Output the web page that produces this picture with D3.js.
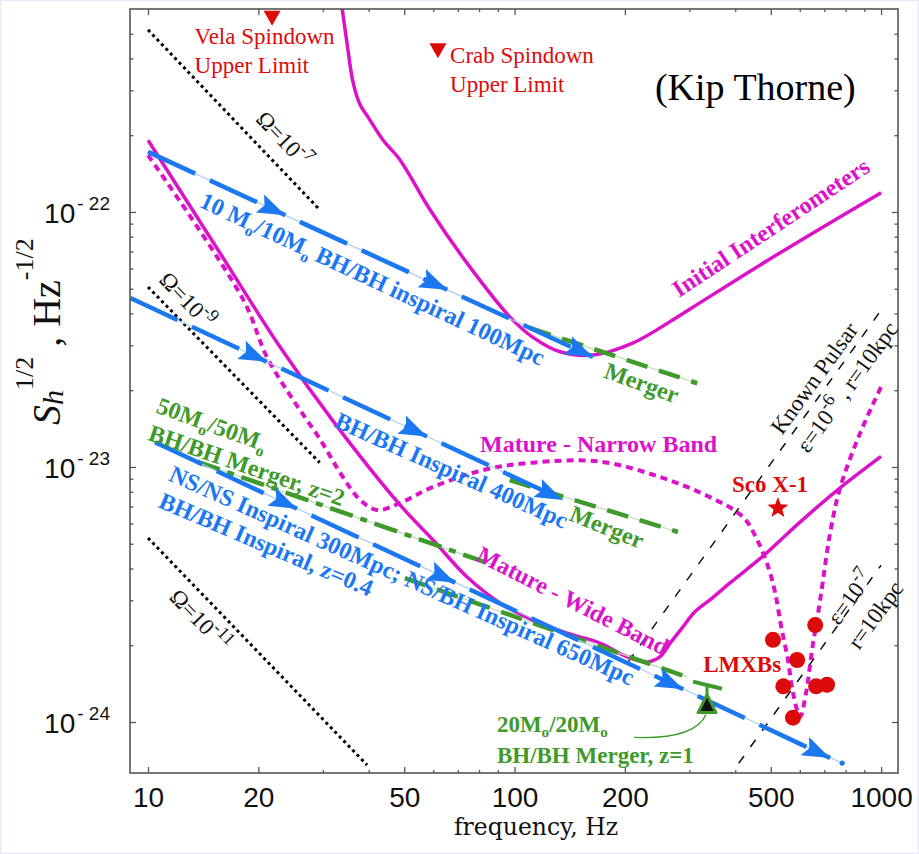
<!DOCTYPE html>
<html>
<head>
<meta charset="utf-8">
<script src="https://cdn.jsdelivr.net/npm/d3@7"></script>
<style>
  body { margin: 0; background: #fff; }
  svg { display: block; }
  text { white-space: pre; }
</style>
</head>
<body>
<svg id="chart" width="919" height="854"></svg>
<script>
// ---- Data: frequency (Hz) vs strain noise S_h^(1/2) (Hz^-1/2) ----
const initialIfo = [[33.6,6.8e-22],[34.9,4.6e-22],[36.3,3.2e-22],[37.9,2.63e-22],[39.8,2.36e-22],
  [43.8,1.91e-22],[48.7,1.6e-22],[58.8,1.02e-22],[74.2,6.3e-23],[97.2,3.87e-23],[112,3.23e-23],
  [133,2.83e-23],[164,2.75e-23],[210,3.06e-23],[270,3.77e-23],[320,4.4e-23],[468,6.2e-23],
  [682,8.6e-23],[1000,1.19e-22]];
const matureWide = [[10,1.91e-22],[15.1,7.56e-23],[22.9,2.96e-23],[31.8,1.53e-23],[48.7,7.1e-24],
  [59.9,5.18e-24],[74.1,3.71e-24],[91.2,2.93e-24],[112,2.51e-24],[139,2.23e-24],[171,2.04e-24],
  [203,1.8e-24],[230,1.72e-24],[249,1.8e-24],[266,2.04e-24],[288,2.36e-24],[310,2.7e-24],
  [346,3.06e-24],[387,3.51e-24],[477,4.48e-24],[601,6.08e-24],[773,8.28e-24],[1000,1.1e-23]];
const matureNarrow = [[10,1.67e-22],[18.2,4.52e-23],[21.1,2.7e-23],[24.9,1.83e-23],[29.5,1.28e-23],
  [34,9.14e-24],[37.9,7.43e-24],[42.2,6.78e-24],[48.7,7.22e-24],[59.9,8.35e-24],[82.1,9.73e-24],
  [112,1.04e-23],[171,1.05e-23],[249,9.14e-24],[341,7.62e-24],[420,6.37e-24],[459,5.18e-24],
  [492,4.06e-24],[514,3.21e-24],[534,2.36e-24],[557,1.75e-24],[575,1.3e-24],[601,1.05e-24],
  [624,1.3e-24],[648,1.91e-24],[682,3.01e-24],[726,5.51e-24],[773,8.28e-24],[877,1.36e-23],
  [1000,2.06e-23]];

// Stochastic background Omega lines
const omega7 = [[10,5.18e-22],[29.4,1.02e-22]];
const omega9 = [[10,5.08e-23],[29.4,1.04e-23]];
const omega11 = [[10,5.27e-24],[39.6,6.78e-25]];

// Known pulsar lines (epsilon = 1e-6 and 1e-7 at 10 kpc)
const pulsarEps6 = [[190,1.49e-24],[1000,4.12e-23]];
const pulsarEps7 = [[380,5.95e-25],[1000,4.12e-24]];

// Inspiral tracks: start, end, arrow frequencies
const inspiral100 = { from:[10,1.72e-22], to:[163.7,2.7e-23], arrows:[23.7,65.5,163.7] };
const inspiral400 = { from:[8.95,4.6e-23], to:[135.5,7.43e-24], arrows:[21.1,57.7,135.5] };
const inspiralNS  = { from:[10.45,1.25e-23], to:[726,7.23e-25], arrows:[25.5,68.9,288.5,726], tail:[783,6.9e-25] };

// Merger tracks
const merger100 = [[110,3.51e-23],[315,2.13e-23]];
const merger400 = [[97,8.89e-24],[279,5.56e-24]];
const mergerZ2  = [[13.6,1.05e-23],[87.3,4.13e-24]];
const mergerNS  = [[50.2,3.67e-24],[296,1.5e-24]];
const mergerZ1bar = [[307,1.44e-24],[368,1.35e-24]];
const mergerZ1 = [335,1.17e-24];

// Spindown upper limits, Sco X-1, LMXBs
const vela = [21.8,5.77e-22];
const crab = [61.8,4.31e-22];
const scoX1 = [523,6.9e-24];
const lmxbs = [[507,2.1e-24],[590,1.75e-24],[541,1.38e-24],[661,2.4e-24],[665,1.38e-24],[712,1.4e-24],[575,1.04e-24]];

// Axis ticks
const xMajor = [10,20,50,100,200,500,1000];
const xMinor = [30,40,60,70,80,90,300,400,600,700,800,900];
const yMajor = [1e-24,1e-23,1e-22];
const yMajorLabels = ["24","23","22"];
const yMinor = [];
yMajor.forEach(d => { for (let k = 2; k <= 9; k++) { if (k*d <= 5.01e-22) yMinor.push(k*d); } });

// ---- Styles ----
const BLUE = "#1b78f0", BLUE_THIN = "#a9cdf6";
const GREEN = "#3f9a2c", GREEN_THIN = "#bcdcb0";
const MAGENTA = "#dc12c9";
const RED = "#dd0a0a";
const SERIF = "'Liberation Serif', 'Times New Roman', serif";
const SANS = "'Liberation Sans', Arial, sans-serif";

const svg = d3.select("#chart");
const plot = { left:130, top:9, right:898, bottom:773 };
const x = d3.scaleLog().domain([8.93,1112]).range([plot.left, plot.right]);
const y = d3.scaleLog().domain([6.31e-25,6.25e-22]).range([plot.bottom, plot.top]);
const P = d => [x(d[0]), y(d[1])];

svg.append("rect").attr("width",919).attr("height",854).attr("fill","#fff");
svg.append("rect").attr("x",0.5).attr("y",0.5).attr("width",918).attr("height",853)
  .attr("fill","none").attr("stroke","#e9e6f6").attr("stroke-width",1.5);

svg.append("defs").append("clipPath").attr("id","plotClip").append("rect")
  .attr("x",plot.left).attr("y",plot.top)
  .attr("width",plot.right-plot.left).attr("height",plot.bottom-plot.top);

const g = svg.append("g").attr("clip-path","url(#plotClip)");
const straight = d3.line().x(d => x(d[0])).y(d => y(d[1]));
const smooth = d3.line().x(d => x(d[0])).y(d => y(d[1])).curve(d3.curveCatmullRom.alpha(0.5));

// ---- Omega background lines ----
[omega7, omega9, omega11].forEach(d => {
  g.append("path").attr("d", straight(d)).attr("fill","none")
    .attr("stroke","#000").attr("stroke-width",3).attr("stroke-dasharray","3,3.4");
});

// ---- Known pulsar lines ----
[pulsarEps6, pulsarEps7].forEach(d => {
  g.append("path").attr("d", straight(d)).attr("fill","none")
    .attr("stroke","#111").attr("stroke-width",1.5).attr("stroke-dasharray","9,11");
});

// ---- Detector noise curves ----
g.append("path").attr("d", smooth(initialIfo)).attr("fill","none")
  .attr("stroke",MAGENTA).attr("stroke-width",3.5);
g.append("path").attr("d", smooth(matureWide)).attr("fill","none")
  .attr("stroke",MAGENTA).attr("stroke-width",3.5);
g.append("path").attr("d", smooth(matureNarrow)).attr("fill","none")
  .attr("stroke",MAGENTA).attr("stroke-width",4).attr("stroke-dasharray","7,5");

// ---- Merger tracks (green dashed over a thin guide line) ----
function dashedTrack(d, color, thin, dash) {
  g.append("path").attr("d", straight(d)).attr("fill","none").attr("stroke",thin).attr("stroke-width",1.2);
  g.append("path").attr("d", straight(d)).attr("fill","none").attr("stroke",color)
    .attr("stroke-width",4.5).attr("stroke-dasharray",dash);
}
dashedTrack(merger100, GREEN, GREEN_THIN, "22,12");
dashedTrack(merger400, GREEN, GREEN_THIN, "22,12");
dashedTrack(mergerZ2, GREEN, GREEN_THIN, "24,8,7,8");
dashedTrack(mergerNS, GREEN, GREEN_THIN, "22,12");

// ---- Inspiral tracks with arrows ----
function inspiral(track) {
  const slope = Math.log(track.to[1]/track.from[1]) / Math.log(track.to[0]/track.from[0]);
  const hAt = f => track.from[1] * Math.pow(f/track.from[0], slope);
  const a = P(track.from), b = P(track.to);
  const ang = Math.atan2(b[1]-a[1], b[0]-a[0]) * 180 / Math.PI;
  const end = track.tail || track.to;
  g.append("path").attr("d", straight([track.from, end])).attr("fill","none")
    .attr("stroke",BLUE_THIN).attr("stroke-width",1.2);
  let prev = track.from[0];
  track.arrows.forEach((fa, i) => {
    const seg = [[prev, hAt(prev)], [fa, hAt(fa)]];
    g.append("path").attr("d", straight(seg)).attr("fill","none").attr("stroke",BLUE)
      .attr("stroke-width",4.5).attr("stroke-dasharray","52,16")
      .attr("stroke-dashoffset", i === 0 ? 0 : 52);
    prev = fa;
  });
  track.arrows.forEach(fa => {
    const p = P([fa, hAt(fa)]);
    g.append("path").attr("d","M0,0L-28,-10L-23,0L-28,10Z")
      .attr("transform",`translate(${p[0]},${p[1]}) rotate(${ang})`).attr("fill",BLUE);
  });
  if (track.tail) {
    const p = P(track.tail);
    g.append("circle").attr("cx",p[0]).attr("cy",p[1]).attr("r",2.6).attr("fill",BLUE);
  }
}
inspiral(inspiral100);
inspiral(inspiral400);
inspiral(inspiralNS);

// ---- 20/20 merger at z=1 marker ----
g.append("path").attr("d", straight(mergerZ1bar)).attr("stroke",GREEN).attr("stroke-width",4).attr("fill","none");
{
  const p = P(mergerZ1);
  const barY = (y(mergerZ1bar[0][1]) + y(mergerZ1bar[1][1])) / 2;
  g.append("line").attr("x1",p[0]).attr("x2",p[0]).attr("y1",barY).attr("y2",p[1]-9)
    .attr("stroke",GREEN).attr("stroke-width",3);
  g.append("path").attr("d",`M${p[0]},${p[1]-10}L${p[0]+9},${p[1]+8}L${p[0]-9},${p[1]+8}Z`)
    .attr("fill","#111").attr("stroke",GREEN).attr("stroke-width",3).attr("stroke-linejoin","round");
  const s = P([212,8.7e-25]);
  g.append("path").attr("d",`M${s[0]},${s[1]}Q${p[0]-12},${s[1]+2} ${p[0]-1},${p[1]+10}`)
    .attr("fill","none").attr("stroke",GREEN).attr("stroke-width",1.3);
}

// ---- Spindown limits, Sco X-1, LMXBs ----
[vela, crab].forEach(d => {
  const p = P(d);
  g.append("path").attr("d",`M${p[0]-8.5},${p[1]-7}L${p[0]+8.5},${p[1]-7}L${p[0]},${p[1]+8}Z`).attr("fill",RED);
});
{
  const p = P(scoX1);
  const pts = d3.range(10).map(i => {
    const r = i % 2 === 0 ? 11 : 4.6, a = -Math.PI/2 + i*Math.PI/5;
    return [p[0] + r*Math.cos(a), p[1] + r*Math.sin(a)];
  });
  g.append("path").attr("d","M"+pts.map(q => q.join(",")).join("L")+"Z").attr("fill",RED);
}
g.selectAll("circle.lmxb").data(lmxbs).join("circle").attr("class","lmxb")
  .attr("cx",d => x(d[0])).attr("cy",d => y(d[1])).attr("r",8).attr("fill",RED);

// ---- Axes ----
const ax = svg.append("g");
function styleAxis(sel) { sel.select(".domain").remove(); sel.selectAll("line").attr("stroke","#555").attr("stroke-width",1.3); }
ax.append("g").attr("transform",`translate(0,${plot.bottom})`)
  .call(d3.axisBottom(x).tickValues(xMajor).tickSizeInner(-6).tickSizeOuter(0).tickFormat(d3.format("d")))
  .call(styleAxis)
  .call(s => s.selectAll("text").attr("y",34).attr("dy",null).attr("font-family",SANS).attr("font-size",28).attr("fill","#111"));
ax.append("g").attr("transform",`translate(0,${plot.bottom})`)
  .call(d3.axisBottom(x).tickValues(xMinor).tickSizeInner(-3).tickSizeOuter(0).tickFormat(""))
  .call(styleAxis);
ax.append("g").attr("transform",`translate(0,${plot.top})`)
  .call(d3.axisTop(x).tickValues(xMajor).tickSizeInner(-6).tickSizeOuter(0).tickFormat(""))
  .call(styleAxis);
ax.append("g").attr("transform",`translate(0,${plot.top})`)
  .call(d3.axisTop(x).tickValues(xMinor).tickSizeInner(-3).tickSizeOuter(0).tickFormat(""))
  .call(styleAxis);
ax.append("g").attr("transform",`translate(${plot.left},0)`)
  .call(d3.axisLeft(y).tickValues(yMajor).tickSizeInner(-6).tickSizeOuter(0).tickFormat(""))
  .call(styleAxis);
ax.append("g").attr("transform",`translate(${plot.left},0)`)
  .call(d3.axisLeft(y).tickValues(yMinor).tickSizeInner(-3.5).tickSizeOuter(0).tickFormat(""))
  .call(styleAxis);
ax.append("g").attr("transform",`translate(${plot.right},0)`)
  .call(d3.axisRight(y).tickValues(yMajor).tickSizeInner(-6).tickSizeOuter(0).tickFormat(""))
  .call(styleAxis);
ax.append("g").attr("transform",`translate(${plot.right},0)`)
  .call(d3.axisRight(y).tickValues(yMinor).tickSizeInner(-3.5).tickSizeOuter(0).tickFormat(""))
  .call(styleAxis);
ax.append("rect").attr("x",plot.left).attr("y",plot.top)
  .attr("width",plot.right-plot.left).attr("height",plot.bottom-plot.top)
  .attr("fill","none").attr("stroke","#555").attr("stroke-width",1.6);

// y tick labels 10^-n
yMajor.forEach((v, i) => {
  const t = svg.append("text").attr("x",110).attr("y",y(v)+11).attr("text-anchor","end")
    .attr("font-family",SANS).attr("font-size",28).attr("fill","#111");
  t.append("tspan").text("10");
  t.append("tspan").attr("font-size",19).attr("dx",2).attr("dy",-13).text("- " + yMajorLabels[i]);
});

// axis titles
svg.append("text").attr("x",536).attr("y",835).attr("text-anchor","middle")
  .attr("font-family","'DejaVu Serif', serif").attr("font-size",23.5).attr("fill","#111")
  .text("frequency, Hz");
{
  const t = svg.append("text").attr("transform","translate(60,425) rotate(-90)")
    .attr("font-family",SERIF).attr("font-size",40).attr("fill","#111");
  t.append("tspan").attr("font-style","italic").text("S");
  t.append("tspan").attr("font-style","italic").attr("font-size",30).attr("dy",3).text("h");
  t.append("tspan").attr("font-size",26).attr("dy",-30).text("1/2");
  t.append("tspan").attr("dy",27).text(" , Hz");
  t.append("tspan").attr("font-size",26).attr("dy",-27).text("-1/2");
}

// ---- Annotations ----
function richText(parts, o) {
  const p = P(o.at);
  const t = svg.append("text")
    .attr("transform",`translate(${p[0]},${p[1]}) rotate(${o.angle || 0})`)
    .attr("text-anchor", o.anchor || "start")
    .attr("dominant-baseline", o.anchor === "middle" ? "central" : null)
    .attr("font-family", SERIF).attr("font-size", o.size)
    .attr("font-weight", o.bold ? "bold" : "normal").attr("fill", o.color);
  let shift = 0;
  parts.forEach(([str, kind]) => {
    let target = 0;
    const ts = t.append("tspan");
    if (kind === "sub") { target = o.size*0.24; ts.attr("font-size", o.size*0.66); }
    if (kind === "sup") { target = -o.size*0.34; ts.attr("font-size", o.size*(o.supScale || 0.68)); }
    if (target - shift !== 0) ts.attr("dy", target - shift);
    shift = target;
    ts.text(str);
  });
}
const B = { bold:true, size:24 };
richText([["10 M"],["o","sub"],["/10M"],["o","sub"],[" BH/BH inspiral 100Mpc"]], {...B, at:[13.7,1.05e-22], angle:25, color:BLUE});
richText([["BH/BH Inspiral 400Mpc"]], {...B, at:[32.0,1.44e-23], angle:24, color:BLUE});
richText([["NS/NS Inspiral 300Mpc; NS/BH Inspiral 650Mpc"]], {...B, at:[11.3,8.89e-24], angle:24, color:BLUE});
richText([["BH/BH Inspiral, z=0.4"]], {...B, at:[10.6,6.97e-24], angle:23, color:BLUE});
richText([["50M"],["o","sub"],["/50M"],["o","sub"]], {...B, at:[10.45,1.64e-23], angle:20, color:GREEN});
richText([["BH/BH Merger, z=2"]], {...B, at:[9.94,1.28e-23], angle:19, color:GREEN});
richText([["Merger"]], {...B, at:[174,2.25e-23], angle:20, color:GREEN});
richText([["Merger"]], {...B, at:[140,6.2e-24], angle:22, color:GREEN});
richText([["20M"],["o","sub"],["/20M"],["o","sub"]], {bold:true, size:23, at:[89.5,9.14e-25], color:GREEN});
richText([["BH/BH Merger, z=1"]], {bold:true, size:23, at:[89.5,6.9e-25], color:GREEN});
richText([["Mature - Narrow Band"]], {...B, at:[80.5,1.14e-23], color:MAGENTA});
richText([["Mature - Wide Band"]], {...B, at:[78,4.32e-24], angle:27, color:MAGENTA});
richText([["Initial Interferometers"]], {...B, at:[281,4.6e-23], angle:-33.5, color:MAGENTA});
richText([["Sco X-1"]], {bold:true, size:23, at:[392,7.98e-24], color:RED});
richText([["LMXBs"]], {bold:true, size:23, at:[327,1.57e-24], color:RED});
richText([["Vela Spindown"]], {size:23, at:[13.4,4.56e-22], color:RED});
richText([["Upper Limit"]], {size:23, at:[13.4,3.51e-22], color:RED});
richText([["Crab Spindown"]], {size:23, at:[66.7,3.84e-22], color:RED});
richText([["Upper Limit"]], {size:23, at:[66.7,2.96e-22], color:RED});
richText([["(Kip Thorne)"]], {size:38, at:[241.5,2.75e-22], color:"#000"});
richText([["Ω=10"],["-7","sup"]], {size:23, supScale:0.78, at:[23.5,1.93e-22], angle:46, anchor:"middle", color:"#111"});
richText([["Ω=10"],["-9","sup"]], {size:23, supScale:0.78, at:[12.8,4.52e-23], angle:46, anchor:"middle", color:"#111"});
richText([["Ω=10"],["-11","sup"]], {size:23, supScale:0.78, at:[13.9,2.51e-24], angle:46, anchor:"middle", color:"#111"});
richText([["Known Pulsar"]], {size:23, at:[656,2.23e-23], angle:-54, anchor:"middle", color:"#111"});
richText([["ε=10"],["-6","sup"],[" , r=10kpc"]], {size:23, supScale:0.78, at:[807,2.06e-23], angle:-54, anchor:"middle", color:"#111"});
richText([["ε=10"],["-7","sup"]], {size:23, supScale:0.78, at:[823,3.09e-24], angle:-54, anchor:"middle", color:"#111"});
richText([["r=10kpc"]], {size:23, at:[963,2.63e-24], angle:-54, anchor:"middle", color:"#111"});
</script>
</body>
</html>
